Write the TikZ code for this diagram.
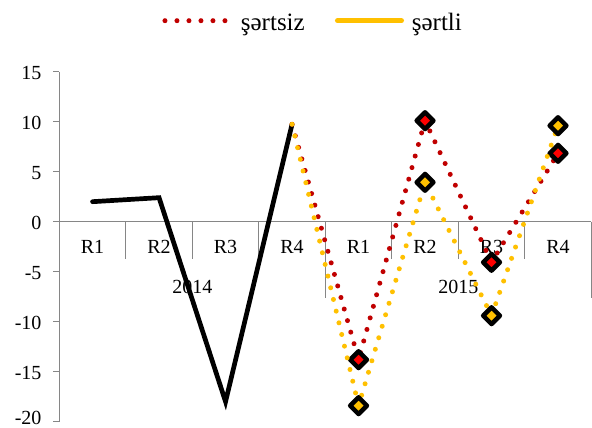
\documentclass[tikz,border=0pt]{standalone}
\usepackage{fontspec}
\setmainfont{Liberation Serif}
\usetikzlibrary{shapes.geometric}
\definecolor{darkred}{RGB}{192,0,0}
\definecolor{gold}{RGB}{255,192,0}
\definecolor{axisgray}{RGB}{134,134,134}

\begin{document}
\begin{tikzpicture}[x=66.5bp,y=10bp,
  axisline/.style={axisgray,line width=1bp},
  dotline/.style={line width=5bp,line cap=round,dash pattern=on 0bp off 12bp},
  marker/.style={diamond,draw=black,line width=4.5bp,line join=round,inner sep=0pt,minimum size=18.6bp},
  lbl/.style={inner sep=0pt,anchor=base,font=\fontsize{20bp}{24bp}\selectfont},
  lgd/.style={inner sep=0pt,anchor=base west,font=\fontsize{25bp}{30bp}\selectfont}]
\useasboundingbox (-0.892,-20.63) rectangle (8.011,22.17);
% axes
\draw[axisline] (0,-20) -- (0,15);
\draw[axisline] (0,0) -- (8,0);
\foreach \y [count=\i] in {-20,-15,...,15} {\draw[axisline] (-0.09,\y) -- (0,\y);
  \node[lbl,anchor=base east] (tick\i) at (-0.265,{max(\y-0.8,-20.25)}) {\y};}
\foreach \x in {1,2,3,5,6,7} \draw[axisline] (\x,0) -- (\x,-3.76);
\foreach \x in {4,8} \draw[axisline] (\x,0) -- (\x,-7.63);
\foreach \q [count=\i] in {R1,R2,R3,R4,R1,R2,R3,R4} \node[lbl] (quarter\i) at (\i-0.5,-3.23) {\q};
\node[lbl] (year2014) at (2,-7.16) {2014};
\node[lbl] (year2015) at (6,-7.16) {2015};
% series
\draw[line width=4.7bp,line cap=round] (0.5,2) -- (1.5,2.4) -- (2.5,-18) -- (3.5,9.74);
\draw[dotline,darkred] (3.5,9.74) -- (4.5,-13.8) -- (5.5,10.1) -- (6.5,-4.06) -- (7.5,6.84);
\foreach \x/\y [count=\i] in {4.5/-13.8,5.5/10.1,6.5/-4.06,7.5/6.84} \node[marker,fill=red] (sz\i) at (\x,\y) {};
\draw[dotline,gold] (3.5,9.74) -- (4.5,-18.4) -- (5.5,3.94) -- (6.5,-9.4) -- (7.5,9.6);
\foreach \x/\y [count=\i] in {4.5/-18.4,5.5/3.94,6.5/-9.4,7.5/9.6} \node[marker,fill=gold] (sl\i) at (\x,\y) {};
% legend
\draw[dotline,darkred] (1.589,20.1) -- (2.492,20.1);
\node[lgd] (leg1) at (2.728,19.12) {şərtsiz};
\draw[gold,line width=5.3bp,line cap=round] (4.185,20.1) -- (5.144,20.1);
\node[lgd] (leg2) at (5.299,19.12) {şərtli};
\end{tikzpicture}
\end{document}
